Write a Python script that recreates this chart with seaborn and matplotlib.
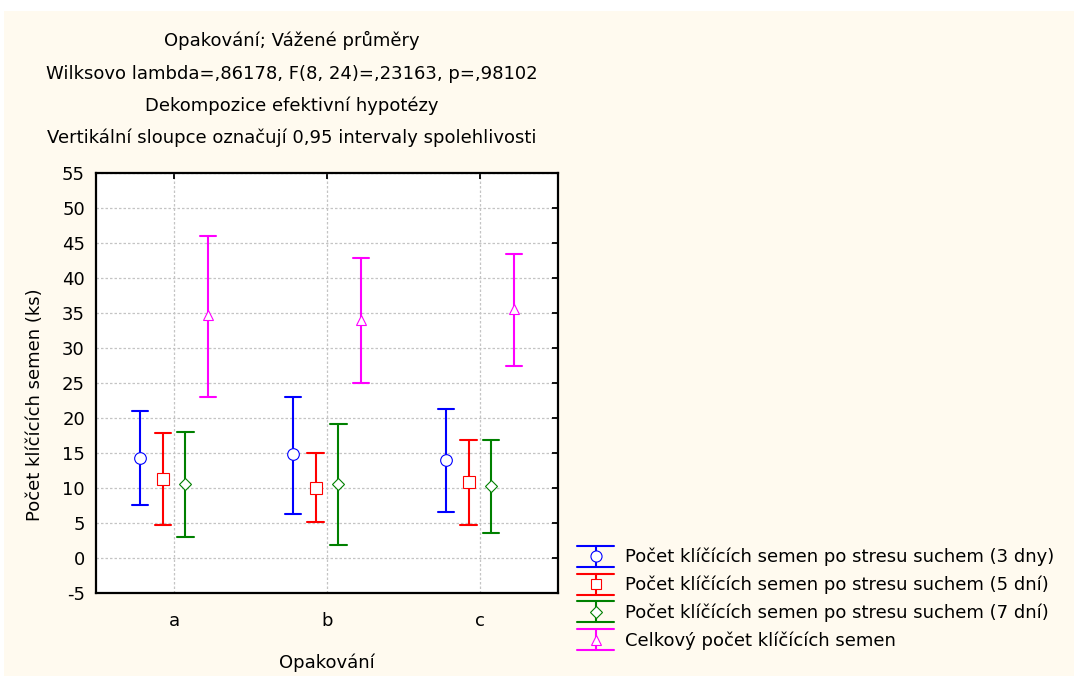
import matplotlib
matplotlib.use("Agg")
import matplotlib.pyplot as plt
from matplotlib.lines import Line2D
from matplotlib.legend_handler import HandlerBase
from matplotlib.patches import Rectangle
import numpy as np
import pandas as pd
import seaborn as sns

# Groups (repetitions) on the x axis
categories = ["a", "b", "c"]

# Series labels
series = [
    "Počet klíčících semen po stresu suchem (3 dny)",
    "Počet klíčících semen po stresu suchem (5 dní)",
    "Počet klíčících semen po stresu suchem (7 dní)",
    "Celkový počet klíčících semen",
]

# Weighted means per series and group
mean_3d = [14.2, 14.8, 14.0]
mean_5d = [11.2, 10.0, 10.9]
mean_7d = [10.5, 10.5, 10.2]
mean_total = [34.7, 33.9, 35.5]

# Lower bounds of the 0.95 confidence intervals
low_3d = [7.5, 6.3, 6.6]
low_5d = [4.7, 5.2, 4.7]
low_7d = [3.0, 1.9, 3.6]
low_total = [22.9, 24.9, 27.4]

# Upper bounds of the 0.95 confidence intervals
high_3d = [21.0, 22.9, 21.3]
high_5d = [17.8, 15.0, 16.9]
high_7d = [18.0, 19.1, 16.9]
high_total = [45.9, 42.8, 43.4]

y_ticks = list(range(-5, 56, 5))

colors = ["#0000FF", "#FF0000", "#008000", "#FF00FF"]
markers = ["o", "s", "D", "^"]
marker_sizes = {"o": 8.4, "s": 8.2, "D": 6.0, "^": 7.6}

means = [mean_3d, mean_5d, mean_7d, mean_total]
lows = [low_3d, low_5d, low_7d, low_total]
highs = [high_3d, high_5d, high_7d, high_total]

# Long table: each group/series holds its lower bound, mean and upper bound,
# so the median gives the mean and the full percentile range gives the interval.
rows = []
for s, m, lo, hi in zip(series, means, lows, highs):
    for c, mv, lv, hv in zip(categories, m, lo, hi):
        for v in (lv, mv, hv):
            rows.append({"Opakování": c, "serie": s, "hodnota": v})
df = pd.DataFrame(rows)

FS = 13

sns.set_theme(style="white")
plt.rcParams["font.family"] = ["DejaVu Sans"]
plt.rcParams["font.size"] = FS
plt.rcParams["text.color"] = "black"
plt.rcParams["axes.labelcolor"] = "black"

fig = plt.figure(figsize=(10.74, 6.79), dpi=100, facecolor="white")
fig.patches.append(Rectangle((4 / 1074, 3 / 679), 1070 / 1074, 665 / 679,
                             transform=fig.transFigure, facecolor="#FFFAEF",
                             edgecolor="none", zorder=-10))

ax = fig.add_axes([96 / 1074, 1 - 593 / 679, 462 / 1074, 420.5 / 679])
ax.set_facecolor("white")

sns.pointplot(
    data=df, x="Opakování", y="hodnota", hue="serie", order=categories,
    hue_order=series, palette=colors, markers=markers, linestyles="none",
    estimator="median", errorbar=("pi", 100), dodge=0.45, capsize=0.105,
    err_kws={"linestyle": "-", "linewidth": 1.5},
    markerfacecolor="white", markeredgewidth=0.8, markersize=8,
    legend=False, ax=ax,
)

# Bring the hollow markers above the interval lines and tune their sizes
for line in ax.lines:
    mk = line.get_marker()
    if mk in marker_sizes:
        line.set_zorder(5)
        line.set_markersize(marker_sizes[mk])
        line.set_markerfacecolor("white")

ax.set_xlim(-0.51, 2.51)
ax.set_ylim(-5, 55)
ax.set_yticks(y_ticks)
ax.set_yticklabels([str(t) for t in y_ticks])

ax.grid(True, color="#c4c4c4", linestyle=(0, (2.0, 1.6)), linewidth=0.9)
ax.set_axisbelow(True)
for sp in ax.spines.values():
    sp.set_color("black")
    sp.set_linewidth(1.6)
ax.tick_params(axis="both", which="both", direction="in", length=4, width=1.3,
               color="black", top=True, right=True, labelsize=FS,
               labelcolor="black")
ax.tick_params(axis="y", pad=8)
ax.tick_params(axis="x", pad=14)

ax.set_xlabel("Opakování", fontsize=FS, color="black", labelpad=16.5)
ax.set_ylabel("Počet klíčících semen (ks)", fontsize=FS, color="black")
ax.yaxis.set_label_coords(-52 / 462, (593 - 405) / 420.5)

title_lines = [
    "Opakování; Vážené průměry",
    "Wilksovo lambda=,86178, F(8, 24)=,23163, p=,98102",
    "Dekompozice efektivní hypotézy",
    "Vertikální sloupce označují 0,95 intervaly spolehlivosti",
]
for i, t in enumerate(title_lines):
    fig.text(292 / 1074, 1 - (46.5 + 32.2 * i) / 679, t, ha="center",
             va="baseline", fontsize=FS, color="black")


class IntervalHandler(HandlerBase):
    """Legend key drawn as a capped vertical interval with a hollow marker."""

    def create_artists(self, legend, orig_handle, xdescent, ydescent, width,
                       height, fontsize, trans):
        col = orig_handle.get_color()
        mk = orig_handle.get_marker()
        x0, x1 = -xdescent, -xdescent + width
        y0, y1 = -ydescent, -ydescent + height
        cx, cy = (x0 + x1) / 2, (y0 + y1) / 2
        arts = [
            Line2D([cx, cx], [y0, y1], color=col, lw=1.5),
            Line2D([x0, x1], [y0, y0], color=col, lw=1.5),
            Line2D([x0, x1], [y1, y1], color=col, lw=1.5),
            Line2D([cx], [cy], marker=mk, color=col, markerfacecolor="white",
                   markeredgewidth=0.8, markersize=marker_sizes[mk] * 0.95,
                   linestyle="none"),
        ]
        for a in arts:
            a.set_transform(trans)
        return arts


handles = [Line2D([], [], color=c, marker=m) for c, m in zip(colors, markers)]
fig.legend(handles, series, handler_map={Line2D: IntervalHandler()},
           loc="upper left", bbox_to_anchor=(577 / 1074, 1 - 546 / 679),
           frameon=False, fontsize=FS, handlelength=2.05, handleheight=1.4,
           labelspacing=0.38, handletextpad=0.6, borderpad=0,
           borderaxespad=0, labelcolor="black")

fig.savefig("out.png", dpi=100, facecolor=fig.get_facecolor())
